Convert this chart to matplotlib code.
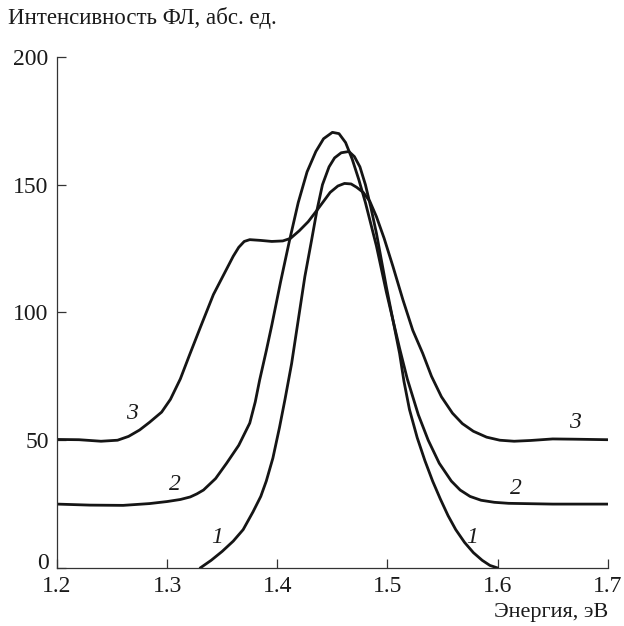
import matplotlib
matplotlib.use('Agg')
import matplotlib.pyplot as plt
import matplotlib.transforms as mtransforms

plt.rcParams['font.family'] = ['Liberation Serif', 'DejaVu Serif']

# Curve 1
x1 = [1.330, 1.340, 1.350, 1.360, 1.369, 1.378, 1.385, 1.390, 1.396, 1.402,
      1.407, 1.413, 1.419, 1.425, 1.431, 1.436, 1.441, 1.447, 1.452, 1.458,
      1.465, 1.470, 1.475, 1.480, 1.485, 1.490, 1.499, 1.505, 1.511, 1.515,
      1.520, 1.527, 1.534, 1.541, 1.548, 1.555, 1.562, 1.570, 1.578, 1.586,
      1.593, 1.600]
y1 = [0, 3, 6.5, 10.5, 15, 22, 28, 34, 43, 55,
      66, 80, 97, 114, 128, 140, 150, 157, 160.5, 162.5,
      163, 161, 157, 150, 141, 131, 110, 97, 84, 73,
      62, 51, 42, 34, 27, 20.5, 15, 10, 6, 3,
      1, 0]

# Curve 2
x2 = [1.200, 1.230, 1.260, 1.284, 1.300, 1.312, 1.321, 1.327, 1.333, 1.344,
      1.354, 1.365, 1.375, 1.380, 1.384, 1.390, 1.395, 1.403, 1.411, 1.419,
      1.427, 1.435, 1.442, 1.450, 1.456, 1.462, 1.468, 1.474, 1.480, 1.490,
      1.499, 1.505, 1.511, 1.518, 1.528, 1.537, 1.547, 1.558, 1.566, 1.575,
      1.585, 1.597, 1.610, 1.650, 1.700]
y2 = [25, 24.6, 24.5, 25.2, 26, 26.8, 27.8, 29, 30.5, 35,
      41, 48, 56.7, 65, 73.6, 85, 95, 112, 128, 143,
      155, 163, 168, 170.5, 170, 166.5, 160, 152, 143, 126,
      108, 97, 86, 74, 60, 50, 41, 34, 30.5, 28,
      26.5, 25.7, 25.3, 25, 25]

# Curve 3
x3 = [1.200, 1.220, 1.240, 1.255, 1.265, 1.275, 1.284, 1.295, 1.303, 1.312,
      1.320, 1.330, 1.342, 1.354, 1.360, 1.365, 1.370, 1.375, 1.385, 1.395,
      1.405, 1.412, 1.420, 1.428, 1.436, 1.442, 1.448, 1.455, 1.461, 1.467,
      1.472, 1.478, 1.484, 1.490, 1.497, 1.505, 1.514, 1.523, 1.532, 1.540,
      1.549, 1.559, 1.568, 1.578, 1.590, 1.602, 1.615, 1.630, 1.650, 1.670,
      1.700]
y3 = [50.3, 50.2, 49.6, 50, 51.5, 54, 57, 61, 66, 74,
      83, 94, 107, 117, 122, 125.5, 127.8, 128.5, 128.2, 127.8,
      128, 129, 132, 135.5, 140, 143.5, 147, 149.5, 150.5, 150.3,
      149, 147, 143.5, 137.5, 129, 118, 105, 93, 84, 75,
      67, 60.6, 56.5, 53.5, 51.2, 50, 49.6, 49.9, 50.5, 50.4,
      50.2]

# curve labels
lab_text = ['1', '1', '2', '2', '3', '3']
lab_x = [1.345, 1.577, 1.307, 1.617, 1.268, 1.670]
lab_y = [12, 12, 32.5, 31, 60.5, 57]

fig = plt.figure(figsize=(6.24, 6.26), dpi=100)
ax = fig.add_axes([0.0913, 0.0927, 0.8827, 0.8163])

for xs, ys in [(x1, y1), (x2, y2), (x3, y3)]:
    ax.plot(xs, ys, color='#151515', lw=2.0, solid_capstyle='round',
            solid_joinstyle='round')

for t, lx, ly in zip(lab_text, lab_x, lab_y):
    ax.text(lx, ly, t, fontsize=17, style='italic', ha='center', va='center',
            color='#1a1a1a')

ax.set_xlim(1.2, 1.7)
ax.set_ylim(0, 200)
ax.set_xticks([1.2, 1.3, 1.4, 1.5, 1.6, 1.7])
ax.set_xticklabels(['1.2', '1.3', '1.4', '1.5', '1.6', '1.7'])
ax.set_yticks([0, 50, 100, 150, 200])
ax.spines['top'].set_visible(False)
ax.spines['right'].set_visible(False)
for s in ['left', 'bottom']:
    ax.spines[s].set_linewidth(0.9)
    ax.spines[s].set_color('#333333')
ax.tick_params(direction='in', length=6.5, width=0.9, color='#333333',
               labelsize=17, labelcolor='#1a1a1a')
ax.tick_params(axis='x', pad=6)
ax.tick_params(axis='y', pad=6)

# lift the "0" a little so it sits clear of "1.2", as in the original
zero = ax.yaxis.get_major_ticks()[0].label1
zero.set_transform(zero.get_transform() +
                   mtransforms.ScaledTranslation(0, 5 / 72, fig.dpi_scale_trans))

fig.text(0.013, 0.972, 'Интенсивность ФЛ, абс. ед.', fontsize=16.5,
         ha='left', va='center', color='#1a1a1a')
fig.text(0.974, 0.021, 'Энергия, эВ', fontsize=16, ha='right', va='center',
         color='#1a1a1a')

fig.savefig('out.png', dpi=100)
